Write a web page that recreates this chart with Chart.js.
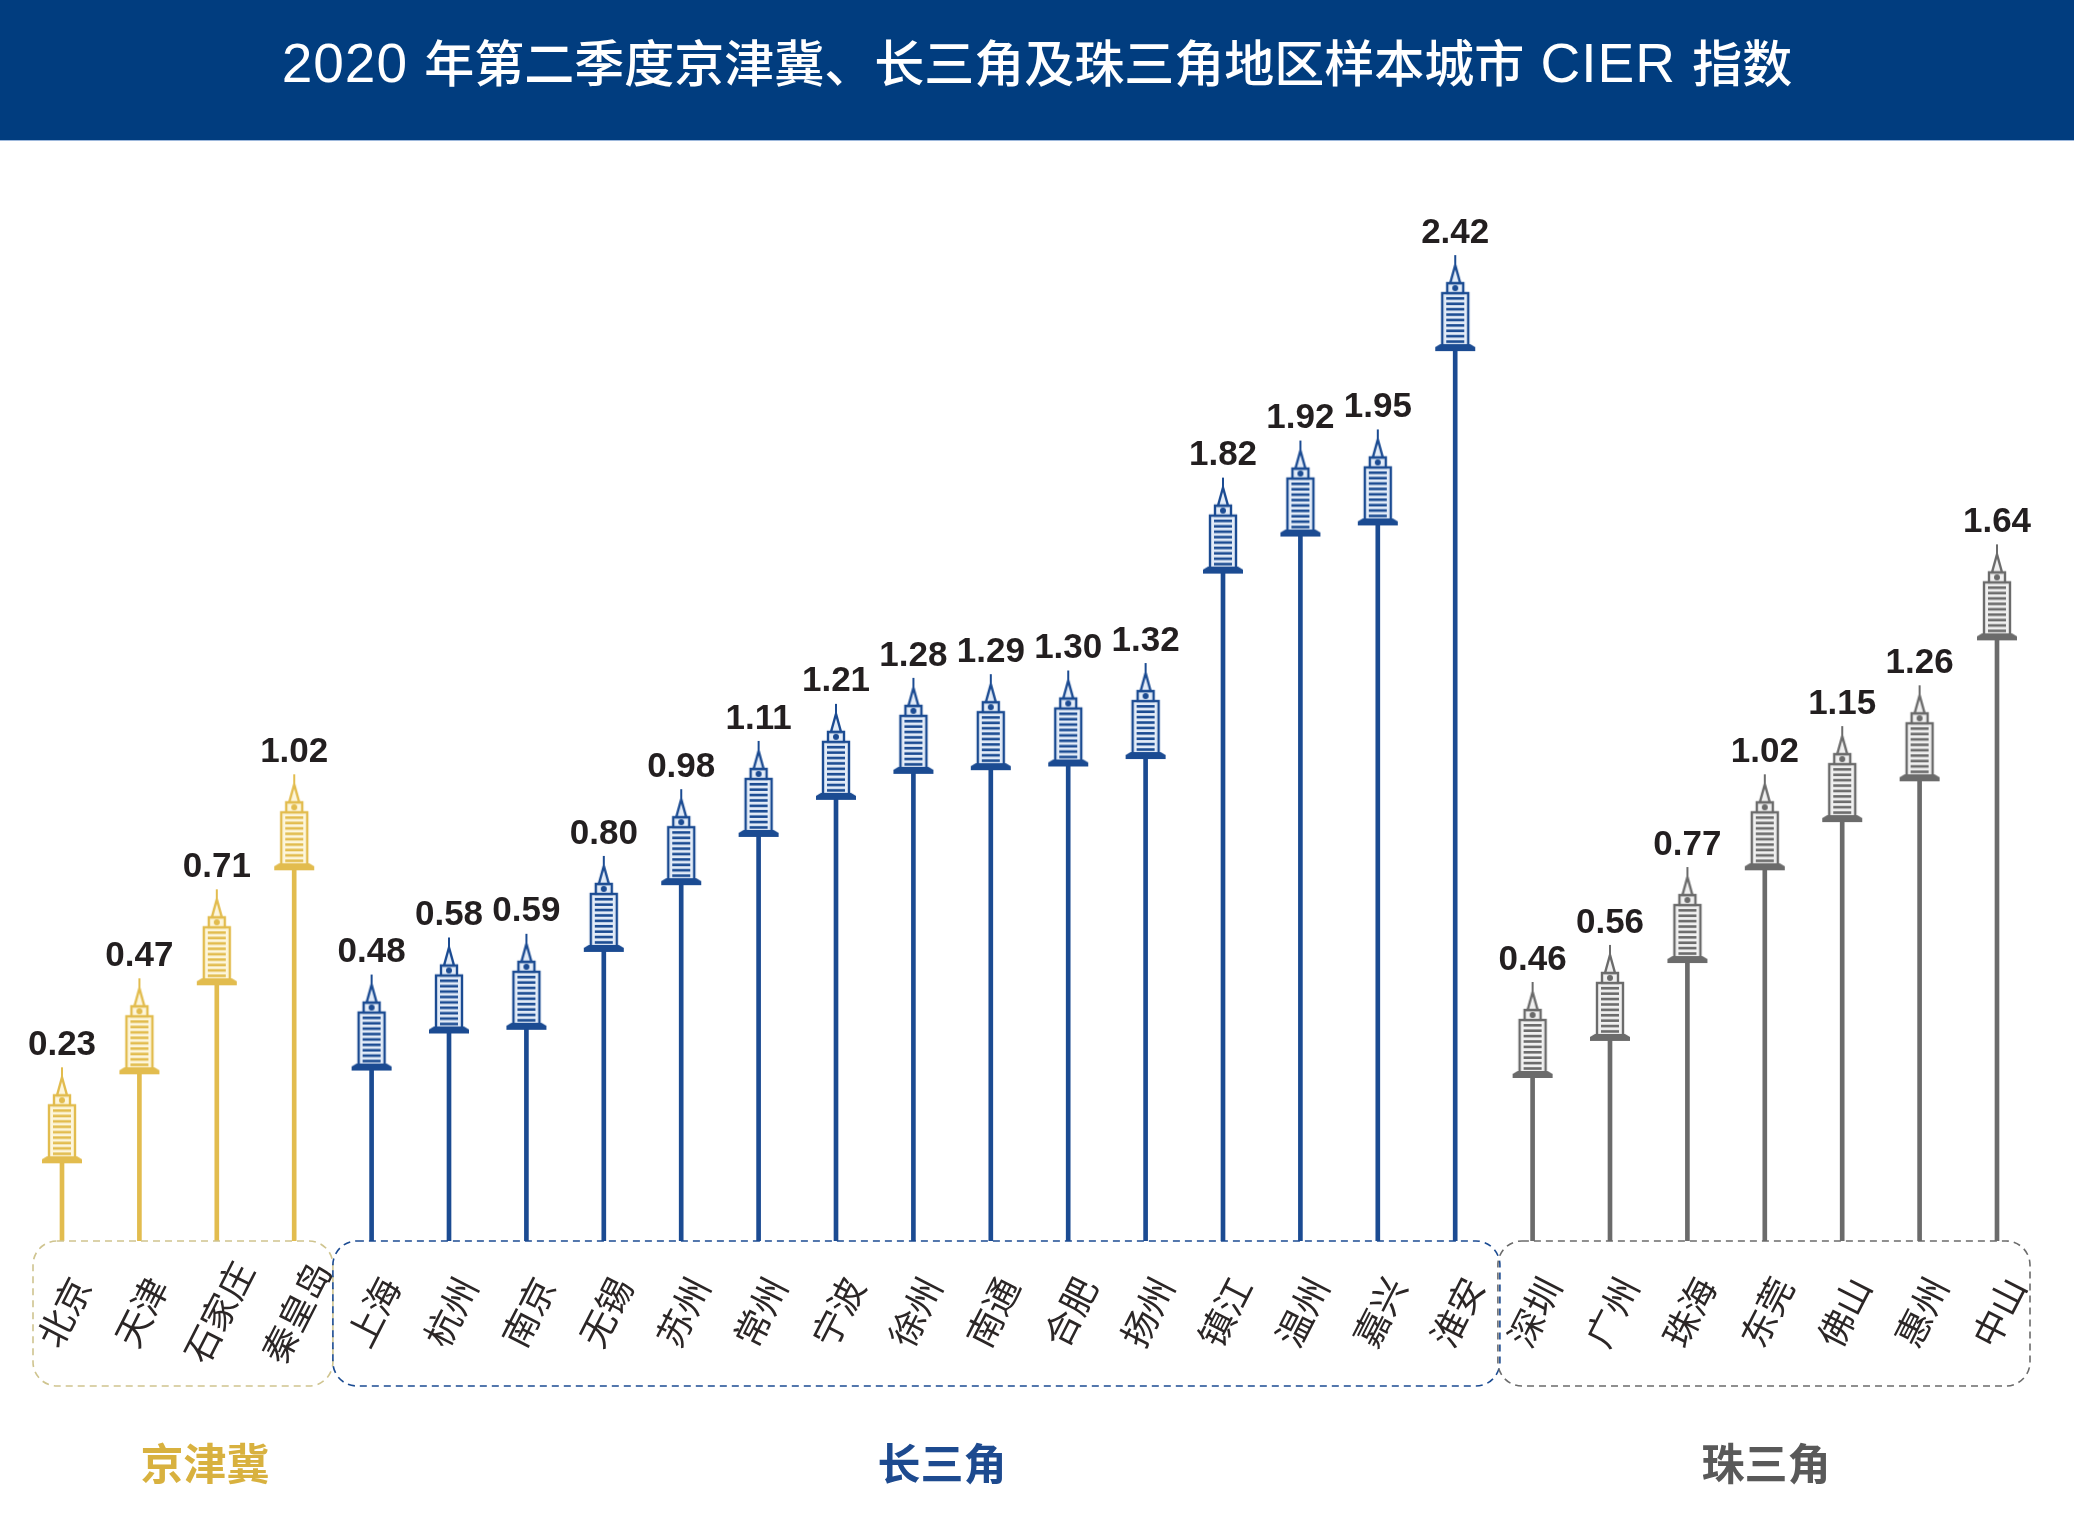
<!DOCTYPE html>
<html lang="zh">
<head>
<meta charset="utf-8">
<title>CIER 指数</title>
<script src="https://cdn.jsdelivr.net/npm/chart.js@4"></script>
<style>
    html, body { margin: 0; padding: 0; background: #fff; }
    #wrap { position: relative; width: 2074px; height: 1516px; overflow: hidden; }
    #banner {
        position: absolute; left: 0; top: 0; width: 2074px; height: 140px;
        background: #013d7f; border-bottom: 1px solid #9db8dc;
        color: #fff; text-align: center; white-space: nowrap;
        font: 500 50px/126px "Liberation Sans", "Noto Sans CJK SC", sans-serif;
    }
    #banner span { font-size: 55px; font-family: "Liberation Sans", sans-serif; font-weight: 400; letter-spacing: 1px; }
    canvas { position: absolute; left: 0; top: 0; }
</style>
</head>
<body>
<div id="wrap">
    <canvas id="chart" width="2074" height="1516"></canvas>
    <div id="banner"><span>2020 </span>年第二季度京津冀、长三角及珠三角地区样本城市<span> CIER </span>指数</div>
</div>
<script>
const cities = ['北京', '天津', '石家庄', '秦皇岛',
    '上海', '杭州', '南京', '无锡', '苏州', '常州', '宁波', '徐州', '南通', '合肥', '扬州', '镇江', '温州', '嘉兴', '淮安',
    '深圳', '广州', '珠海', '东莞', '佛山', '惠州', '中山'];
const cierValues = [0.23, 0.47, 0.71, 1.02,
    0.48, 0.58, 0.59, 0.80, 0.98, 1.11, 1.21, 1.28, 1.29, 1.30, 1.32, 1.82, 1.92, 1.95, 2.42,
    0.46, 0.56, 0.77, 1.02, 1.15, 1.26, 1.64];
const regionNames = ['京津冀', '长三角', '珠三角'];
const regionSizes = [4, 15, 7];

const regionColors = ['#e2bc4e', '#1b4b92', '#6b6b6b'];
const regionLabelColors = ['#d8b13f', '#1d4a8f', '#595959'];
const regionFills = ['#fdf6dc', '#e3ecf8', '#f0f0f0'];
const cjkFont = '"Noto Sans CJK SC", sans-serif';

// which region each city belongs to
const regionOf = [];
regionSizes.forEach((n, r) => { for (let i = 0; i < n; i++) regionOf.push(r); });

// tower icon, the flange sits on the canvas centre so the point lands on top of the pole
function makeTower(color, fill) {
    const c = document.createElement('canvas');
    c.width = 44;
    c.height = 192;
    const g = c.getContext('2d');
    const cx = 22, base = 96;
    g.fillStyle = color;
    g.strokeStyle = color;
    g.lineWidth = 2.4;
    // body
    g.fillStyle = fill;
    g.fillRect(cx - 13, base - 56, 26, 54);
    g.strokeRect(cx - 13, base - 56, 26, 54);
    g.fillStyle = color;
    for (let i = 0; i < 9; i++) {
        g.fillRect(cx - 9, base - 52 + i * 5.4, 18, 2.6);
    }
    // flange
    g.fillRect(cx - 20, base - 2, 40, 4);
    g.beginPath();
    g.moveTo(cx - 20, base - 2);
    g.lineTo(cx - 15, base - 5);
    g.lineTo(cx + 15, base - 5);
    g.lineTo(cx + 20, base - 2);
    g.fill();
    // small box with the clock
    g.fillStyle = fill;
    g.fillRect(cx - 8, base - 66, 16, 10);
    g.strokeRect(cx - 8, base - 66, 16, 10);
    g.fillStyle = color;
    g.beginPath();
    g.arc(cx, base - 61, 3, 0, Math.PI * 2);
    g.fill();
    // spire and needle
    g.fillStyle = fill;
    g.beginPath();
    g.moveTo(cx - 5, base - 66);
    g.lineTo(cx, base - 84);
    g.lineTo(cx + 5, base - 66);
    g.closePath();
    g.fill();
    g.stroke();
    g.fillStyle = color;
    g.fillRect(cx - 1, base - 94, 2, 14);
    return c;
}

const towers = regionColors.map((col, r) => makeTower(col, regionFills[r]));

// value labels above the towers, city names and the dashed region boxes
const decorPlugin = {
    id: 'decor',
    afterDatasetsDraw(chart) {
        const ctx = chart.ctx;
        const xs = chart.scales.x;
        const meta = chart.getDatasetMeta(0);
        const step = xs.getPixelForValue(1) - xs.getPixelForValue(0);

        ctx.save();
        ctx.textAlign = 'center';
        ctx.textBaseline = 'middle';

        ctx.fillStyle = '#231f20';
        ctx.font = 'bold 35px "Liberation Sans", sans-serif';
        meta.data.forEach((bar, i) => {
            ctx.fillText(cierValues[i].toFixed(2), bar.x, bar.y - 116);
        });

        ctx.fillStyle = '#2b2626';
        ctx.font = '36px ' + cjkFont;
        cities.forEach((name, i) => {
            ctx.save();
            ctx.translate(xs.getPixelForValue(i) + 2, 1312);
            ctx.rotate(-63 * Math.PI / 180);
            ctx.fillText(name, 0, 0);
            ctx.restore();
        });

        let first = 0;
        regionNames.forEach((name, r) => {
            const last = first + regionSizes[r] - 1;
            const left = xs.getPixelForValue(first) - (r === 0 ? 29 : step / 2 + (r === 2 ? -4 : 0));
            const right = xs.getPixelForValue(last) + (r === 2 ? 33 : step / 2 + (r === 1 ? 6 : 0));
            ctx.strokeStyle = r === 0 ? '#cfc48f' : regionColors[r];
            ctx.lineWidth = 1.6;
            ctx.setLineDash([7, 5]);
            ctx.beginPath();
            ctx.roundRect(left, 1241, right - left, 145, 24);
            ctx.stroke();
            ctx.setLineDash([]);

            ctx.fillStyle = regionLabelColors[r];
            ctx.font = 'bold 43px ' + cjkFont;
            const mid = r === 0 ? 205 : r === 1 ? 942 : 1766;
            ctx.fillText(name, mid, 1464);
            first = last + 1;
        });
        ctx.restore();
    }
};

new Chart(document.getElementById('chart').getContext('2d'), {
    data: {
        labels: cities,
        datasets: [
            {
                type: 'bar',
                data: cierValues,
                backgroundColor: regionOf.map(r => regionColors[r]),
                barThickness: 4,
                order: 2
            },
            {
                type: 'line',
                data: cierValues,
                showLine: false,
                pointStyle: regionOf.map(r => towers[r]),
                pointRadius: 3,
                order: 1
            }
        ]
    },
    plugins: [decorPlugin],
    options: {
        responsive: false,
        animation: false,
        layout: { padding: { left: 23.3, right: 38.3, top: 134, bottom: 275 } },
        plugins: {
            legend: { display: false },
            title: { display: false },
            tooltip: { enabled: false }
        },
        scales: {
            x: { display: false, offset: true, grid: { display: false } },
            // the poles do not start from zero in the original, the box edge sits at about 0.015
            y: { display: false, min: 0.015, max: 3.0, grid: { display: false } }
        }
    }
});
</script>
</body>
</html>
